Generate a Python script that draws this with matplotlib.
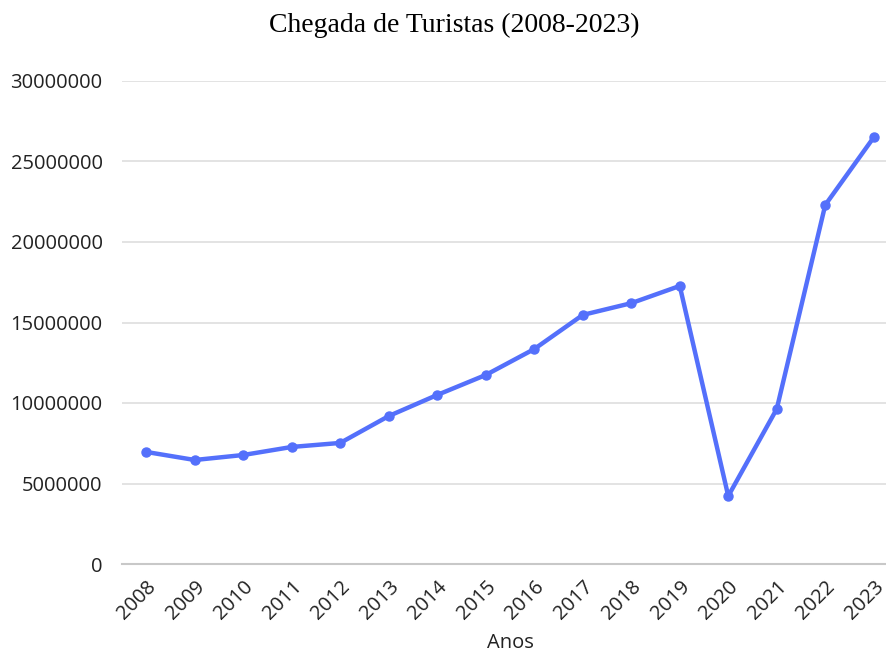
import matplotlib
matplotlib.use("Agg")
import matplotlib.pyplot as plt

anos = ["2008", "2009", "2010", "2011", "2012", "2013", "2014", "2015",
        "2016", "2017", "2018", "2019", "2020", "2021", "2022", "2023"]
turistas = [6960000, 6460000, 6770000, 7270000, 7520000, 9190000, 10500000, 11740000,
            13350000, 15470000, 16200000, 17270000, 4220000, 9630000, 22300000, 26500000]

W, H = 886, 650
fig = plt.figure(figsize=(W / 100, H / 100), dpi=100)
# axes runs a bit past the right edge, like in the reference
ax = fig.add_axes([122 / W, (H - 564) / H, (898 - 122) / W, (564 - 81) / H])

x = list(range(len(anos)))
ax.plot(x, turistas, color="#5470fb", lw=3.2, marker="o", ms=6.5, zorder=3)

fam = ["Open Sans", "DejaVu Sans"]
ax.set_xlim(-0.5, len(anos) - 0.5)
ax.set_ylim(0, 30000000)
ax.set_yticks(range(0, 30000001, 5000000))
ax.set_yticklabels([str(v) for v in range(0, 30000001, 5000000)],
                   fontfamily=fam, fontsize=14.5)
ax.set_xticks(x)
ax.set_xticklabels(anos, rotation=45, ha="right", rotation_mode="anchor",
                   fontfamily=fam, fontsize=14.5)
ax.tick_params(length=0, pad=14, colors="#222222")
ax.tick_params(axis="x", pad=9)

ax.grid(axis="y", color="#e0e0e0", lw=1.3)
ax.set_axisbelow(True)
for s in ["top", "right", "left"]:
    ax.spines[s].set_visible(False)
ax.spines["bottom"].set_color("#c8c8c8")
ax.spines["bottom"].set_linewidth(1.5)

ax.set_xlabel("Anos", fontfamily=fam, fontsize=14.5, color="#222222", labelpad=7)
fig.text(454 / W, 1 - 25 / H, "Chegada de Turistas (2008-2023)", ha="center", va="center",
         fontfamily="Liberation Serif", fontsize=20)

fig.savefig("out.png", dpi=100)
